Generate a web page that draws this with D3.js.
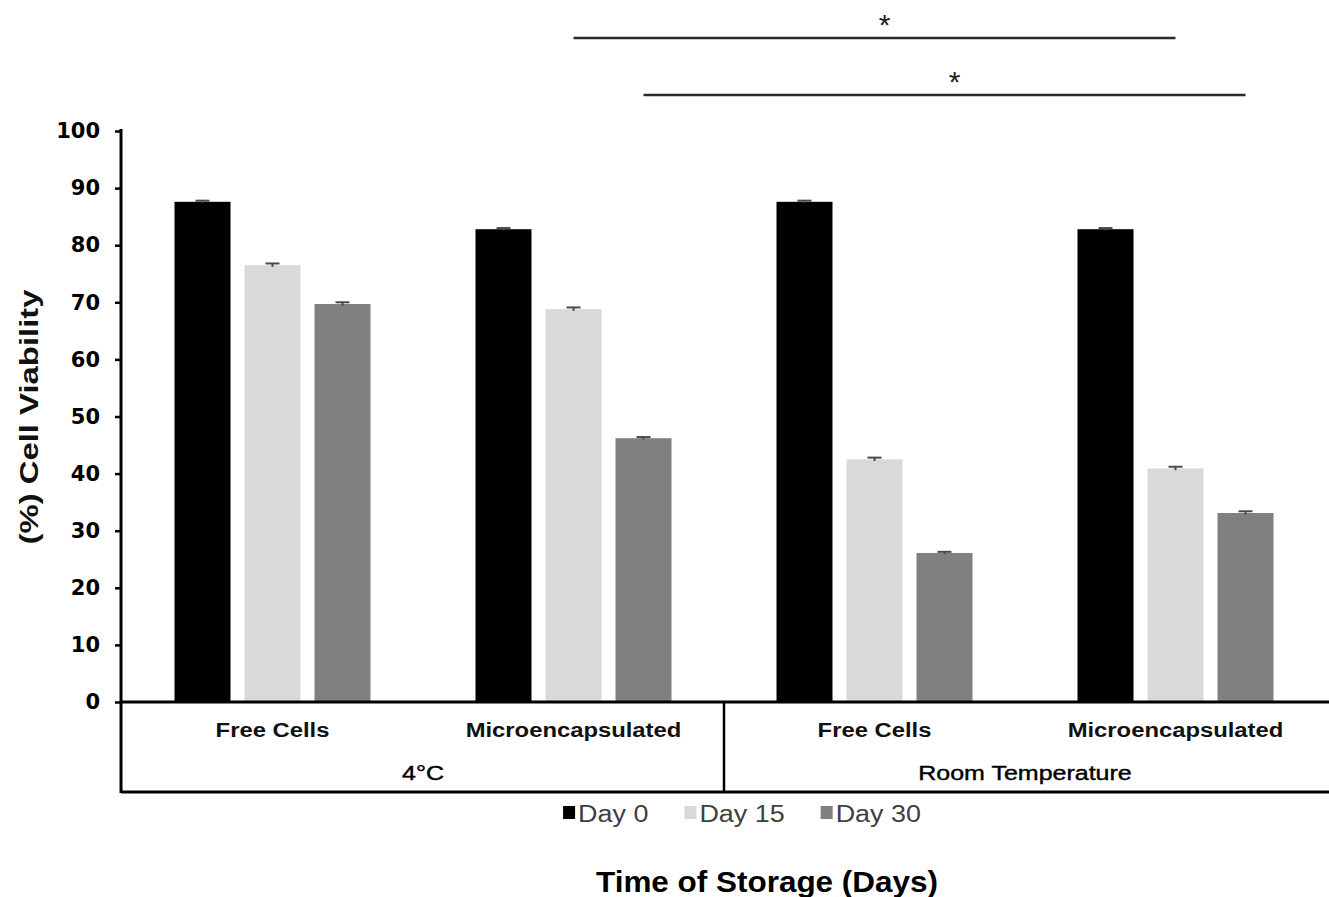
<!DOCTYPE html>
<html>
<head>
<meta charset="utf-8">
<script src="https://cdnjs.cloudflare.com/ajax/libs/d3/7.8.5/d3.min.js"></script>
<style>
  html, body { margin: 0; padding: 0; background: #ffffff; }
  svg { display: block; }
</style>
</head>
<body>
<svg id="chart" width="1329" height="897"></svg>
<script>
// ---------------- DATA ----------------
const groups = ["4°C", "Room Temperature"];
const categories = ["Free Cells", "Microencapsulated", "Free Cells", "Microencapsulated"];
const categoryGroup = [0, 0, 1, 1];
const series = ["Day 0", "Day 15", "Day 30"];
const day0 = [87.6, 82.8, 87.6, 82.8];
const day15 = [76.5, 68.8, 42.5, 40.9];
const day30 = [69.7, 46.2, 26.1, 33.1];
const err0 = [0.2, 0.2, 0.2, 0.2];
const err15 = [0.3, 0.3, 0.3, 0.3];
const err30 = [0.3, 0.2, 0.2, 0.3];
const yTicks = [0, 10, 20, 30, 40, 50, 60, 70, 80, 90, 100];
const comparisons = [
  { from: 1, to: 3, series: "Day 15", label: "*" },
  { from: 1, to: 3, series: "Day 30", label: "*" }
];
const xTitle = "Time of Storage (Days)";
const yTitle = "(%) Cell Viability";

// ---------------- LAYOUT / STYLE ----------------
const colors = { "Day 0": "#000000", "Day 15": "#d9d9d9", "Day 30": "#808080" };
const values = { "Day 0": day0, "Day 15": day15, "Day 30": day30 };
const errors = { "Day 0": err0, "Day 15": err15, "Day 30": err30 };
const plotLeft = 122, plotRight = 1326, plotTop = 131, plotBottom = 702, boxBottom = 792;
const sigLevels = [38, 95];

const svg = d3.select("#chart");
svg.append("rect").attr("width", 1329).attr("height", 897).attr("fill", "#fff");

function stretch(sel, k) {
  sel.each(function () {
    const w = this.getComputedTextLength();
    this.setAttribute("textLength", w * k);
    this.setAttribute("lengthAdjust", "spacingAndGlyphs");
  });
}
function fitTo(sel, w) {
  sel.each(function () {
    this.setAttribute("textLength", w);
    this.setAttribute("lengthAdjust", "spacingAndGlyphs");
  });
}

const catKeys = categories.map((c, i) => i);
const x0 = d3.scaleBand().domain(catKeys).range([plotLeft, plotRight]).paddingInner(0).paddingOuter(0);
const x1 = d3.scaleBand().domain(series).range([0, x0.bandwidth()]).paddingInner(0.2).paddingOuter(0.75);
const y = d3.scaleLinear().domain([0, 100]).range([plotBottom, plotTop]);

// bars
const barData = [];
catKeys.forEach(i => series.forEach(s => barData.push({ i, s, v: values[s][i], e: errors[s][i] })));

svg.append("g").selectAll("rect").data(barData).join("rect")
  .attr("x", d => x0(d.i) + x1(d.s))
  .attr("y", d => y(d.v))
  .attr("width", x1.bandwidth())
  .attr("height", d => y(0) - y(d.v))
  .attr("fill", d => colors[d.s]);

// error bars
const eg = svg.append("g").attr("stroke", "#4a4a4a").attr("stroke-width", 2);
barData.forEach(d => {
  const cx = x0(d.i) + x1(d.s) + x1.bandwidth() / 2;
  eg.append("line").attr("x1", cx).attr("x2", cx).attr("y1", y(d.v - d.e)).attr("y2", y(d.v + d.e));
  eg.append("line").attr("x1", cx - 7).attr("x2", cx + 7).attr("y1", y(d.v + d.e)).attr("y2", y(d.v + d.e));
});

// y axis
const yAxis = d3.axisLeft(y).tickValues(yTicks).tickSize(6).tickPadding(15);
const ya = svg.append("g").attr("transform", `translate(${plotLeft - 1},0)`).call(yAxis);
ya.select(".domain").remove();
ya.selectAll(".tick line").attr("stroke", "#000").attr("stroke-width", 2.5);
ya.selectAll(".tick text")
  .attr("font-family", "DejaVu Sans, sans-serif")
  .attr("font-weight", "bold")
  .attr("font-size", 21)
  .attr("fill", "#000");
svg.append("line").attr("x1", plotLeft - 1).attr("x2", plotLeft - 1)
  .attr("y1", plotTop - 2).attr("y2", boxBottom + 1)
  .attr("stroke", "#000").attr("stroke-width", 3);

// category box
svg.append("line").attr("x1", plotLeft - 1).attr("x2", 1329).attr("y1", plotBottom).attr("y2", plotBottom)
  .attr("stroke", "#000").attr("stroke-width", 3);
svg.append("line").attr("x1", plotLeft - 1).attr("x2", 1329).attr("y1", boxBottom).attr("y2", boxBottom)
  .attr("stroke", "#000").attr("stroke-width", 3);
const groupStarts = groups.map((g, gi) => catKeys.find(i => categoryGroup[i] === gi));
groupStarts.slice(1).forEach(i => {
  svg.append("line").attr("x1", x0(i)).attr("x2", x0(i)).attr("y1", plotBottom).attr("y2", boxBottom)
    .attr("stroke", "#000").attr("stroke-width", 2.5);
});

// category labels
svg.append("g").selectAll("text").data(catKeys).join("text")
  .attr("x", i => x0(i) + x0.bandwidth() / 2)
  .attr("y", 737)
  .attr("text-anchor", "middle")
  .attr("font-family", "Liberation Sans, Arial, sans-serif")
  .attr("font-weight", "bold")
  .attr("font-size", 20)
  .attr("fill", "#111")
  .text(i => categories[i])
  .call(stretch, 1.19);

// group labels
svg.append("g").selectAll("text").data(groups).join("text")
  .attr("x", (g, gi) => {
    const idx = catKeys.filter(i => categoryGroup[i] === gi);
    return (x0(idx[0]) + x0(idx[idx.length - 1]) + x0.bandwidth()) / 2;
  })
  .attr("y", 780)
  .attr("text-anchor", "middle")
  .attr("font-family", "Liberation Sans, Arial, sans-serif")
  .attr("font-size", 20)
  .attr("fill", "#000")
  .attr("stroke", "#000")
  .attr("stroke-width", 0.4)
  .text(g => g)
  .call(stretch, 1.25);

// significance brackets
comparisons.forEach((c, k) => {
  const xa = x0(c.from) + x1(c.series) + x1.bandwidth() / 2;
  const xb = x0(c.to) + x1(c.series) + x1.bandwidth() / 2;
  const ly = sigLevels[k];
  svg.append("line").attr("x1", xa).attr("x2", xb).attr("y1", ly).attr("y2", ly)
    .attr("stroke", "#2a2a2a").attr("stroke-width", 2.5);
  svg.append("text").attr("x", (xa + xb) / 2 + 10).attr("y", ly - 3)
    .attr("text-anchor", "middle")
    .attr("font-family", "Liberation Sans, Arial, sans-serif")
    .attr("font-size", 30)
    .attr("fill", "#222")
    .text(c.label);
});

// legend
const lg = svg.append("g");
let lx = 0;
series.forEach(s => {
  const it = lg.append("g").attr("transform", `translate(${lx},0)`);
  it.append("rect").attr("x", 0).attr("y", 806).attr("width", 12).attr("height", 13).attr("fill", colors[s]);
  const t = it.append("text").attr("x", 15).attr("y", 822)
    .attr("font-family", "Liberation Sans, Arial, sans-serif")
    .attr("font-size", 23)
    .attr("fill", "#404040")
    .text(s)
    .call(stretch, 1.17);
  const w = +t.attr("textLength");
  lx += 15 + w + 36;
});
const legendW = lx - 36;
lg.attr("transform", `translate(${742 - legendW / 2},0)`);

// axis titles
svg.append("text")
  .attr("transform", `translate(38,${417}) rotate(-90)`)
  .attr("text-anchor", "middle")
  .attr("font-family", "Liberation Sans, Arial, sans-serif")
  .attr("font-weight", "bold")
  .attr("font-size", 25)
  .attr("fill", "#111")
  .text(yTitle)
  .call(fitTo, 255);

svg.append("text")
  .attr("x", 767).attr("y", 892)
  .attr("text-anchor", "middle")
  .attr("font-family", "Liberation Sans, Arial, sans-serif")
  .attr("font-weight", "bold")
  .attr("font-size", 29)
  .attr("fill", "#000")
  .text(xTitle)
  .call(fitTo, 342);
</script>
</body>
</html>
